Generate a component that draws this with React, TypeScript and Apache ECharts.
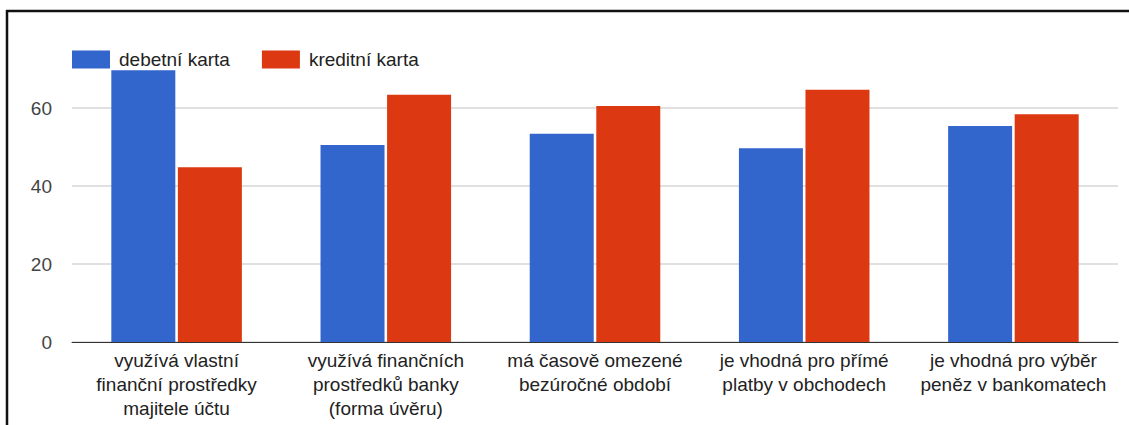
import React, { useEffect, useRef } from "react";
import * as echarts from "echarts";

const categories = [
  "využívá vlastní\nfinanční prostředky\nmajitele účtu",
  "využívá finančních\nprostředků banky\n(forma úvěru)",
  "má časově omezené\nbezúročné období",
  "je vhodná pro přímé\nplatby v obchodech",
  "je vhodná pro výběr\npeněz v bankomatech",
];
const seriesNames = ["debetní karta", "kreditní karta"];
const debitValues = [69.7, 50.5, 53.4, 49.7, 55.4];
const creditValues = [44.8, 63.4, 60.5, 64.7, 58.4];
const yMin = 0;
const yMax = 70;
const yInterval = 20;

const FONT = "'Liberation Sans', Arial, sans-serif";

export default function App() {
  const ref = useRef<HTMLDivElement>(null);
  useEffect(() => {
    document.body.style.margin = "0";
    if (!ref.current) return;
    const chart = echarts.init(ref.current, null, { renderer: "svg" });
    chart.setOption({
      animation: false,
      backgroundColor: "#ffffff",
      textStyle: { fontFamily: FONT },
      graphic: [
        {
          type: "line",
          shape: { x1: 6, y1: 11, x2: 1129, y2: 11 },
          style: { stroke: "#111", lineWidth: 2.5 },
        },
        {
          type: "line",
          shape: { x1: 7, y1: 10, x2: 7, y2: 425 },
          style: { stroke: "#111", lineWidth: 2.5 },
        },
      ],
      legend: {
        left: 72,
        top: 50,
        padding: 0,
        itemWidth: 38,
        itemHeight: 18,
        itemGap: 32,
        icon: "rect",
        data: seriesNames,
        textStyle: {
          fontFamily: FONT,
          fontSize: 19,
          color: "#222",
          padding: [0, 0, 0, 4],
        },
      },
      grid: { left: 72, right: 11, top: 69, bottom: 83, containLabel: false },
      xAxis: {
        type: "category",
        data: categories,
        axisLine: { show: true, lineStyle: { color: "#333", width: 1 } },
        axisTick: { show: false },
        axisLabel: {
          interval: 0,
          margin: 6,
          fontFamily: FONT,
          fontSize: 19,
          lineHeight: 24,
          color: "#222",
          align: "center",
        },
      },
      yAxis: {
        type: "value",
        min: yMin,
        max: yMax,
        interval: yInterval,
        axisLine: { show: false },
        axisTick: { show: false },
        axisLabel: {
          margin: 20,
          fontFamily: FONT,
          fontSize: 19,
          color: "#444",
          showMaxLabel: false,
          formatter: (v: number) => (v % yInterval === 0 ? String(v) : ""),
        },
        splitLine: {
          show: true,
          lineStyle: {
            color: ["#e0e0e0", "#e0e0e0", "#e0e0e0", "#e0e0e0", "rgba(0,0,0,0)"],
            width: 2,
          },
        },
      },
      series: [
        {
          name: seriesNames[0],
          type: "bar",
          data: debitValues,
          barWidth: 64,
          barGap: "4%",
          itemStyle: { color: "#3366cc" },
        },
        {
          name: seriesNames[1],
          type: "bar",
          data: creditValues,
          barWidth: 64,
          barGap: "4%",
          itemStyle: { color: "#dc3912" },
        },
      ],
    });
    return () => chart.dispose();
  }, []);
  return <div ref={ref} style={{ width: 1129, height: 425 }} />;
}
